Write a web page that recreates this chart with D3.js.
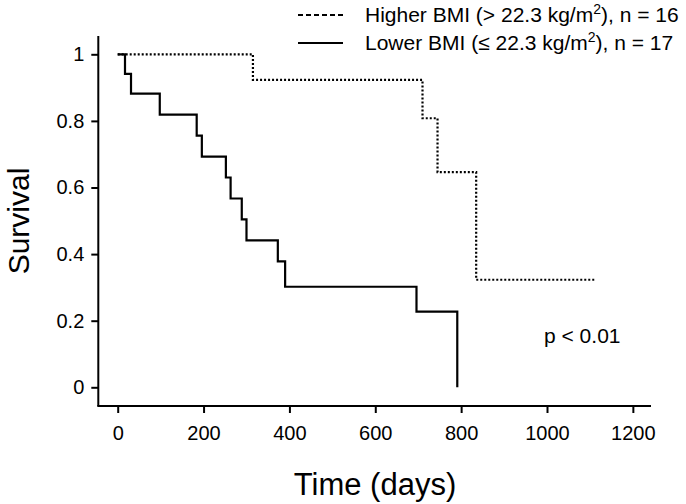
<!DOCTYPE html>
<html>
<head>
<meta charset="utf-8">
<script src="https://cdn.jsdelivr.net/npm/d3@7"></script>
<style>
  html, body { margin: 0; padding: 0; background: #fff; }
  svg { display: block; font-family: "Liberation Sans", Arial, sans-serif; }
</style>
</head>
<body>
<svg id="chart" width="686" height="504"></svg>
<script>
// ---- data ----
const lowerTimes = [0, 17, 31, 98, 184, 196, 252, 263, 289, 300, 373, 390, 696, 791];
const lowerSurv  = [1, 0.941, 0.882, 0.819, 0.756, 0.693, 0.630, 0.567, 0.504, 0.441, 0.378, 0.302, 0.227, 0];
const higherTimes = [0, 315, 710, 745, 835, 1112];
const higherSurv  = [1, 0.923, 0.808, 0.646, 0.323, 0.323];
const xTicks = [0, 200, 400, 600, 800, 1000, 1200];
const yTicks = [0, 0.2, 0.4, 0.6, 0.8, 1];
const yTickLabels = ["0", "0.2", "0.4", "0.6", "0.8", "1"];
const legendLabels = [
  {pre: "Higher BMI (> 22.3 kg/m", sup: "2", post: "), n = 16", dash: "5,3"},
  {pre: "Lower BMI (\u2264 22.3 kg/m", sup: "2", post: "), n = 17", dash: null}
];
const pText = "p < 0.01";

// ---- layout ----
const svg = d3.select("#chart");
const x = d3.scaleLinear().domain([0, 1000]).range([117.7, 547]);
const y = d3.scaleLinear().domain([0, 1]).range([387.3, 54.3]);
const axisLeftX = 98.3, axisBottomY = 406;
const xAxisEnd = 651, yAxisTop = 36;

// axes lines
svg.append("line").attr("x1", axisLeftX).attr("x2", axisLeftX)
  .attr("y1", yAxisTop).attr("y2", axisBottomY)
  .attr("stroke", "#000").attr("stroke-width", 2);
svg.append("line").attr("x1", axisLeftX - 1).attr("x2", xAxisEnd)
  .attr("y1", axisBottomY).attr("y2", axisBottomY)
  .attr("stroke", "#000").attr("stroke-width", 2);

// y axis ticks
const yAxis = d3.axisLeft(y).tickValues(yTicks)
  .tickFormat((d, i) => yTickLabels[i]).tickSize(7).tickPadding(7);
const gy = svg.append("g").attr("transform", `translate(${axisLeftX},0)`).call(yAxis);
gy.select(".domain").remove();
gy.selectAll(".tick line").attr("stroke", "#000").attr("stroke-width", 2);
gy.selectAll(".tick text").attr("font-size", 20).attr("fill", "#000")
  .attr("font-family", "Liberation Sans, Arial, sans-serif");

// x axis ticks
const xAxis = d3.axisBottom(x).tickValues(xTicks).tickFormat(d3.format("d"))
  .tickSize(7).tickPadding(13);
const gx = svg.append("g").attr("transform", `translate(0,${axisBottomY})`).call(xAxis);
gx.select(".domain").remove();
gx.selectAll(".tick line").attr("stroke", "#000").attr("stroke-width", 2);
gx.selectAll(".tick text").attr("font-size", 20).attr("fill", "#000")
  .attr("font-family", "Liberation Sans, Arial, sans-serif");

// curves
const line = d3.line().x(d => x(d[0])).y(d => y(d[1])).curve(d3.curveStepAfter);
const higherData = higherTimes.map((t, i) => [t, higherSurv[i]]);
const lowerData = lowerTimes.map((t, i) => [t, lowerSurv[i]]);
svg.append("path").datum(higherData).attr("d", line)
  .attr("fill", "none").attr("stroke", "#000").attr("stroke-width", 2.2)
  .attr("stroke-dasharray", "2,2");
svg.append("path").datum(lowerData).attr("d", line)
  .attr("fill", "none").attr("stroke", "#000").attr("stroke-width", 2.2);

// axis titles
svg.append("text").attr("x", 375).attr("y", 495).attr("text-anchor", "middle")
  .attr("font-size", 31).text("Time (days)");
svg.append("text").attr("transform", "translate(29,221) rotate(-90)")
  .attr("text-anchor", "middle").attr("font-size", 30).text("Survival");

// p value
svg.append("text").attr("x", 544).attr("y", 343).attr("font-size", 21).text(pText);

// legend
const lg = svg.append("g");
legendLabels.forEach((L, i) => {
  const ly = 15 + i * 28;
  const ln = lg.append("line").attr("x1", 298).attr("x2", 343).attr("y1", ly).attr("y2", ly)
    .attr("stroke", "#000").attr("stroke-width", 2);
  if (L.dash) ln.attr("stroke-dasharray", L.dash);
  const t = lg.append("text").attr("x", 365).attr("y", ly + 7).attr("font-size", 21);
  t.append("tspan").text(L.pre);
  t.append("tspan").attr("font-size", 14).attr("dy", -8).text(L.sup);
  t.append("tspan").attr("dy", 8).text(L.post);
});
</script>
</body>
</html>
